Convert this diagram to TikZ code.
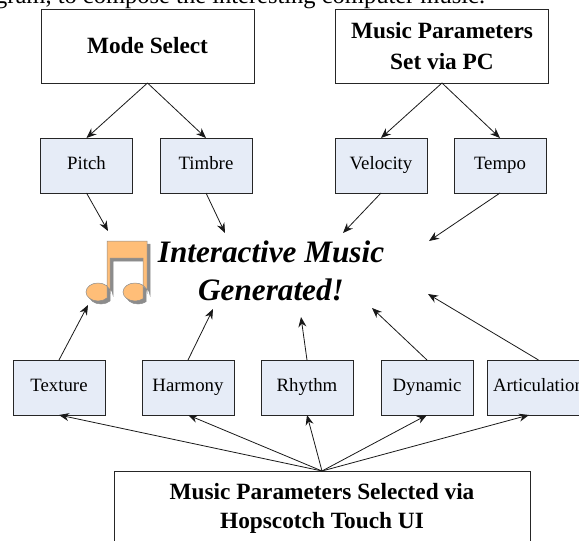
\documentclass[tikz,border=0pt]{standalone}
\usepackage{fontspec}
\setmainfont{Liberation Serif}
\usetikzlibrary{arrows.meta}
\definecolor{boxblue}{HTML}{E6ECF7}
\definecolor{noteorange}{HTML}{FFBE78}
\definecolor{notegray}{HTML}{8C8C8C}
\tikzset{
  mainbox/.style={draw=black!85, line width=0.9pt, fill=white, minimum width=213pt, minimum height=74pt, inner sep=0pt, outer sep=0pt, align=center, font=\fontsize{23.3}{31}\selectfont\bfseries},
  parambox/.style={draw=black!85, line width=0.9pt, fill=boxblue, minimum width=92pt, minimum height=55pt, inner sep=0pt, outer sep=0pt, text height=12pt, text depth=4pt, font=\fontsize{18.8}{20}\selectfont},
  flow/.style={-{Stealth[length=10pt,width=8pt]}, line width=0.8pt, black!90},
  headline/.style={font=\fontsize{31.2}{38}\selectfont\bfseries\itshape, align=center, inner sep=0pt}
}
\begin{document}
\begin{tikzpicture}[x=1pt,y=-1pt]
\useasboundingbox (0,0) rectangle (579,541);
\node[anchor=base west, inner sep=0pt, font=\fontsize{24.5}{28}\selectfont] (bodyline) at (-5,3) {gram, to compose the interesting computer music.}; % cut by the page

% top row
\node[mainbox] (mode) at (147.5,46) {Mode Select};
\node[mainbox] (setpc) at (442,46) {Music Parameters\\Set via PC};
\node[parambox] (pitch) at (86.5,165.5) {Pitch};
\node[parambox] (timbre) at (206,165.5) {Timbre};
\node[parambox] (velocity) at (381,165.5) {Velocity};
\node[parambox] (tempo) at (500,165.5) {Tempo};

% bottom row
\node[parambox] (texture) at (59,387.5) {Texture};
\node[parambox] (harmony) at (188,387.5) {Harmony};
\node[parambox] (rhythm) at (307,387.5) {Rhythm};
\node[parambox] (dynamic) at (427,387.5) {Dynamic};
\node[parambox, minimum width=103pt] (articulation) at (538.5,387.5) {Articulation};
\node[mainbox, minimum width=416pt, font=\fontsize{23.3}{29}\selectfont\bfseries] (touch) at (322,508) {Music Parameters Selected via\\Hopscotch Touch UI};

% middle
\node[headline] (generated) at (271,271) {Interactive Music\\Generated!};
\foreach \off/\col in {3/notegray, 0/noteorange}
  \path[fill=\col, draw=notegray, line width=0.5pt, shift={(\off,\off)}]
    (107,241) -- (147,241) -- (147,292) arc (0:-312:12 and 9) -- (143,258) -- (110,258) -- (110,292) arc (0:-319:12 and 9) -- cycle; % note

% free arrow ends
\coordinate (pitchend) at (108,231);
\coordinate (timbreend) at (225,233);
\coordinate (velocityend) at (343,233);
\coordinate (tempoend) at (429,241);
\coordinate (textureend) at (88,305);
\coordinate (harmonyend) at (213,309);
\coordinate (rhythmend) at (301,317);
\coordinate (dynamicend) at (372,308);
\coordinate (articulationend) at (428,294);
\coordinate (articulationin) at (529,415);

\draw[flow] (mode.south) -- (pitch.north);
\draw[flow] (mode.south) -- (timbre.north);
\draw[flow] (setpc.south) -- (velocity.north);
\draw[flow] (setpc.south) -- (tempo.north);
\draw[flow] (pitch.south) -- (pitchend);
\draw[flow] (timbre.south) -- (timbreend);
\draw[flow] (velocity.south) -- (velocityend);
\draw[flow] (tempo.south) -- (tempoend);
\draw[flow] (texture.north) -- (textureend);
\draw[flow] (harmony.north) -- (harmonyend);
\draw[flow] (rhythm.north) -- (rhythmend);
\draw[flow] (dynamic.north) -- (dynamicend);
\draw[flow] (articulation.north) -- (articulationend);
\draw[flow] (touch.north) -- (texture.south);
\draw[flow] (touch.north) -- (harmony.south);
\draw[flow] (touch.north) -- (rhythm.south);
\draw[flow] (touch.north) -- (dynamic.south);
\draw[flow] (touch.north) -- (articulationin);
\end{tikzpicture}
\end{document}
